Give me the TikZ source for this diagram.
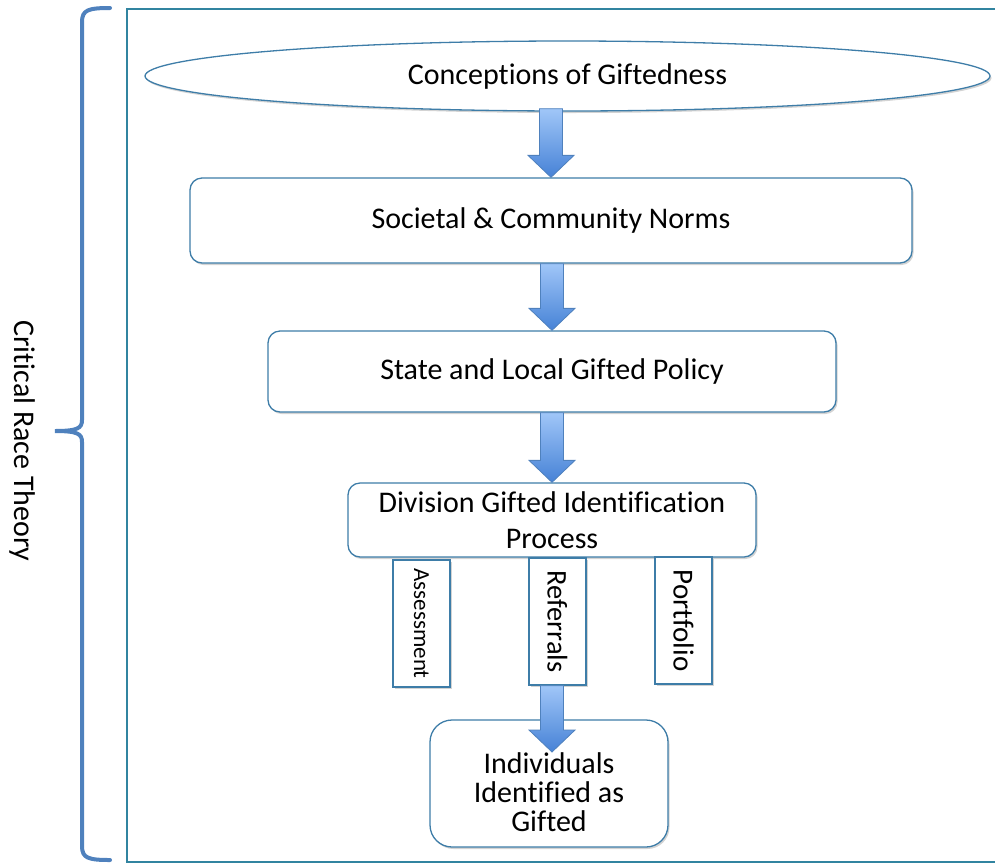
\documentclass[tikz,border=0pt]{standalone}
\usepackage{fontspec}
\setmainfont[Ligatures=NoCommon]{Carlito}
\usetikzlibrary{shapes.geometric,shadows,calc}
\definecolor{boxline}{RGB}{62,125,168}
\definecolor{frameline}{RGB}{49,132,160}
\definecolor{bracecol}{RGB}{79,129,189}
\definecolor{arrtop}{RGB}{160,198,248}
\definecolor{arrbot}{RGB}{70,130,214}
\definecolor{arrline}{RGB}{79,129,189}
\tikzset{
  shad/.style={drop shadow={opacity=0.35,shadow xshift=1.5pt,shadow yshift=-2pt}},
  rbox/.style={draw=boxline,line width=1.3pt,fill=white,rounded corners=12pt,shad,font=\fontsize{30}{36}\selectfont,align=center,inner sep=0pt},
  sbox/.style={draw=boxline,line width=1.3pt,fill=white,shad,rotate=-90,minimum width=127pt,minimum height=57pt,inner sep=0pt},
  barrow/.style={draw=arrline,line width=0.8pt,top color=arrtop,bottom color=arrbot},
}
\newcommand{\blockarrow}[2]{%
  \path[barrow] let \p1=#1, \p2=#2 in
   ({\x2-11.5pt},\y1) -- ({\x2+11.5pt},\y1) -- ({\x2+11.5pt},{\y2+22pt}) -- ({\x2+23pt},{\y2+22pt})
   -- (\x2,\y2) -- ({\x2-23pt},{\y2+22pt}) -- ({\x2-11.5pt},{\y2+22pt}) -- cycle;}
\begin{document}
\begin{tikzpicture}[x=1pt,y=-1pt]
\useasboundingbox (0,0) rectangle (995,863);
% frame
\draw[frameline,line width=1.3pt] (1000,9) -- (127,9) -- (127,862) -- (1000,862);
% brace
\draw[bracecol,line width=4pt,line cap=round]
  (110,8) .. controls (88,8) and (82,10) .. (82,22) -- (82,420)
  .. controls (82,428) and (78,431) .. (55,431)
  .. controls (78,431) and (82,434) .. (82,442) -- (82,846)
  .. controls (82,858) and (88,860) .. (110,860);
\node[rotate=-90,font=\fontsize{30}{36}\selectfont] (crt) at (22,441) {Critical Race Theory};
% nodes
\node[ellipse,draw=boxline,line width=1.3pt,fill=white,shad,minimum width=845pt,minimum height=70pt,inner sep=0pt,font=\fontsize{30}{36}\selectfont] (ell) at (567.5,76) {Conceptions of Giftedness};
\node[rbox,minimum width=722pt,minimum height=85pt] (soc) at (551,220.5) {Societal \& Community Norms};
\node[rbox,minimum width=568pt,minimum height=81pt] (state) at (552,371.5) {State and Local Gifted Policy};
\node[rbox,minimum width=408pt,minimum height=74pt] (div) at (552,520) {Division Gifted Identification\\Process};
\node[sbox,font=\fontsize{23}{28}\selectfont] (ass) at (421.5,623.5) {Assessment};
\node[sbox,font=\fontsize{28.5}{34}\selectfont] (ref) at (557.5,621.5) {Referrals};
\node[sbox,font=\fontsize{29}{34}\selectfont] (port) at (683.5,620.5) {Portfolio};
\node[rbox,rounded corners=22pt,minimum width=238pt,minimum height=127pt] (ind) at (549,783.5) {};
\node[font=\fontsize{30}{29}\selectfont,align=center,inner sep=0pt] (indtxt) at (549,792) {Individuals\\Identified as\\Gifted};
\coordinate (tip4) at (552,752);
% arrows
\blockarrow{([yshift=3pt]ell.south)}{(soc.north)}
\blockarrow{(soc.south)}{(state.north)}
\blockarrow{(state.south)}{(div.north)}
\blockarrow{(ref.east)}{(tip4)}
\end{tikzpicture}
\end{document}
